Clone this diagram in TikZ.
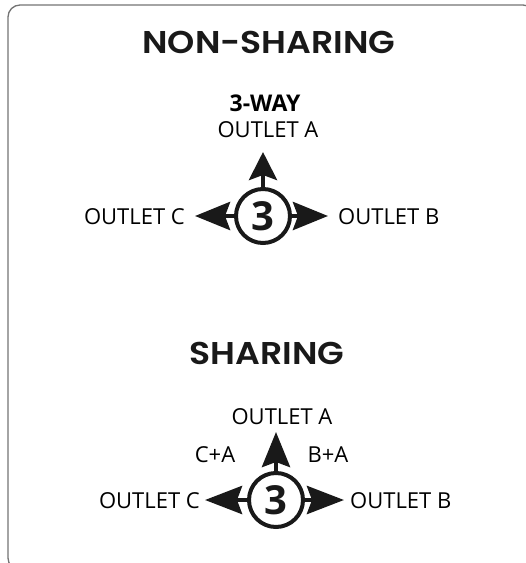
\documentclass[tikz,border=0pt]{standalone}
\usepackage{fontspec}
\setmainfont{Open Sans}
\newfontfamily\titlefont{Poppins SemiBold}[FakeStretch=1.1]
\usetikzlibrary{arrows.meta}
\tikzset{
  frame/.style={draw=black!55, line width=1.3pt, rounded corners=12pt},
  title/.style={font=\titlefont\fontsize{31.5}{34}\selectfont, text=black!90, inner sep=0pt},
  lbl/.style={font=\fontsize{22}{26}\selectfont, text=black, inner sep=0pt},
  boldlbl/.style={font=\bfseries\fontsize{23}{26}\selectfont, text=black, inner sep=0pt},
  hub/.style={circle, draw=black!90, line width=4pt, minimum size=54pt, inner sep=0pt,
    font=\bfseries\fontsize{40}{42}\selectfont, text=black!90},
  arr/.style={draw=black!90, line width=4.5pt,
    -{Stealth[length=#1, width=28pt, inset=5pt, fill=black!90]}},
}
\begin{document}
\begin{tikzpicture}[x=1pt, y=-1pt]
\useasboundingbox (0,0) rectangle (526,563);
\begin{scope}
\clip (0,0) rectangle (526,563);
\draw[frame] (8,5) rectangle (535,570);
\end{scope}

% NON-SHARING
\node[title] (t1) at (269,42) {NON-SHARING};
\node[boldlbl] (way) at (265,103) {3-WAY};
\node[lbl] (a1) at (268,130) {OUTLET A};
\node[hub] (c1) at (263,216) {3};
\coordinate (ua1) at (263,152);
\coordinate (la1) at (195,216);
\coordinate (ra1) at (328,216);
\draw[arr=28pt] (c1.north) -- (ua1);
\draw[arr=35pt] (c1.west) -- (la1);
\draw[arr=35pt] (c1.east) -- (ra1);
\node[lbl, anchor=east] (cc1) at (185,217) {OUTLET C};
\node[lbl, anchor=west] (bb1) at (338,217) {OUTLET B};

% SHARING
\node[title] (t2) at (267,353) {SHARING};
\node[lbl] (a2) at (282,417) {OUTLET A};
\node[lbl] (ca) at (215,455) {C+A};
\node[lbl] (ba) at (328,455) {B+A};
\node[hub] (c2) at (276,500) {3};
\coordinate (ua2) at (276,432);
\coordinate (la2) at (205,500);
\coordinate (ra2) at (344,500);
\draw[arr=35pt] (c2.north) -- (ua2);
\draw[arr=37pt] (c2.west) -- (la2);
\draw[arr=37pt] (c2.east) -- (ra2);
\node[lbl, anchor=east] (cc2) at (200,501) {OUTLET C};
\node[lbl, anchor=west] (bb2) at (350,501) {OUTLET B};
\end{tikzpicture}
\end{document}
